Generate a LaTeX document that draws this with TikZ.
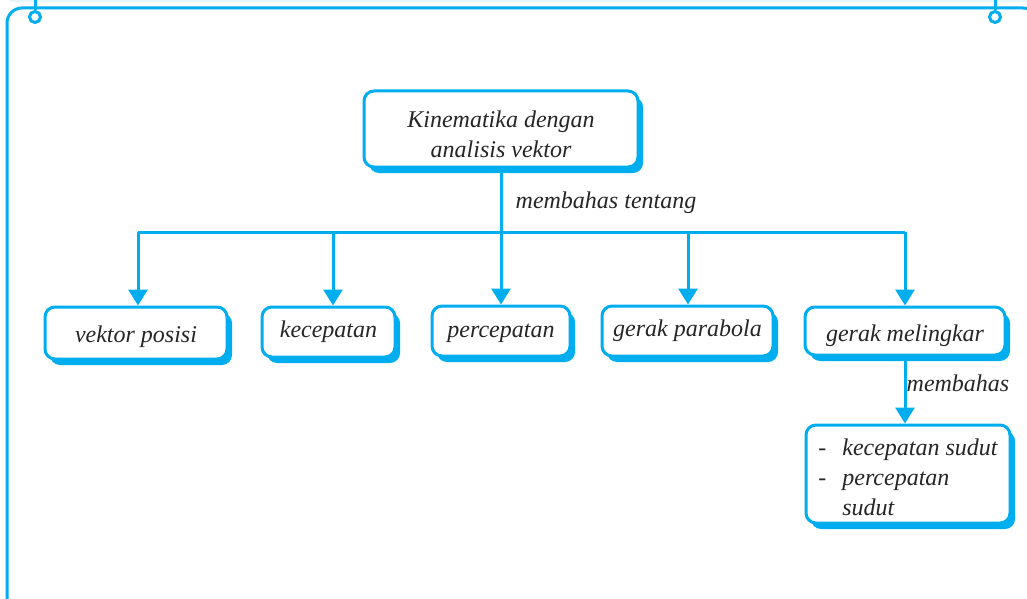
\documentclass[tikz,border=0pt]{standalone}
\usepackage{fontspec}
\setmainfont{Liberation Serif}
\usetikzlibrary{arrows.meta,shadows}
\definecolor{cmblue}{HTML}{00AEEF}
\definecolor{cmtext}{HTML}{262626}
\definecolor{cmband}{HTML}{E6F6FD}
\newcommand\cmdown[2]{\raisebox{-#1}[\height][\depth]{#2}}
\tikzset{
  cmframe/.style={draw=cmblue, line width=3pt, rounded corners=15pt},
  cmbox/.style={draw=cmblue, line width=3pt, fill=white, rounded corners=10pt,
    drop shadow={shadow xshift=5pt, shadow yshift=-6pt, fill=cmblue, opacity=1},
    inner sep=0pt, text=cmtext, font=\fontsize{24}{30}\selectfont\itshape, align=center},
  cmlabel/.style={text=cmtext, font=\fontsize{24}{30}\selectfont\itshape, inner sep=0pt},
  cmline/.style={draw=cmblue, line width=3pt},
  cmarrow/.style={draw=cmblue, line width=3pt, -{Triangle[width=19pt,length=16pt]}},
  cmring/.style={draw=cmblue, line width=3pt}
}
\begin{document}
\begin{tikzpicture}[x=1pt,y=-1pt]
\useasboundingbox (0,0) rectangle (1027,599);
\fill[cmband] (10,0) rectangle (1027,2.5);
\begin{scope}
\clip (0,0) rectangle (1027,599);
\draw[cmframe] (7,8) rectangle (1038,612);
\end{scope}
% rings
\coordinate (rlt) at (35,0);
\coordinate (rrt) at (995,0);
\node[cmring, circle, minimum size=11pt, inner sep=0pt] (rl) at (35,17) {};
\node[cmring, circle, minimum size=11pt, inner sep=0pt] (rr) at (995,17) {};
\draw[cmring] (rlt) -- (rl.north);
\draw[cmring] (rrt) -- (rr.north);

% main box
\node[cmbox, minimum width=274pt, minimum height=76pt] (main) at (501,129)
  {\cmdown{7pt}{\begin{tabular}{@{}c@{}}Kinematika dengan\\analisis vektor\end{tabular}}};

% level boxes
\node[cmbox, minimum width=182pt, minimum height=52pt] (vp) at (136,333) {\cmdown{4pt}{vektor posisi}};
\node[cmbox, minimum width=133pt, minimum height=50pt] (kc) at (328.5,332) {kecepatan};
\node[cmbox, minimum width=138pt, minimum height=50pt] (pc) at (501,331) {\cmdown{2pt}{percepatan}};
\node[cmbox, minimum width=171pt, minimum height=50pt] (gp) at (687.5,331) {gerak parabola};
\node[cmbox, minimum width=200pt, minimum height=48pt] (gm) at (905,331) {\cmdown{5pt}{gerak melingkar}};

\node[cmbox, minimum width=204pt, minimum height=98pt, align=left] (sub) at (908,474)
  {\cmdown{5pt}{\begin{tabular}{@{}l@{\hspace{16pt}}l@{}}-&kecepatan sudut\\-&percepatan\\&sudut\end{tabular}}};

% connectors
\coordinate (hl) at (138,232);
\coordinate (hk) at (333,232);
\coordinate (hg) at (688,232);
\coordinate (hr) at (905,232);
\draw[cmline] (hl) -- (hr);
\draw[cmarrow] (main.south) -- (pc.north);
\draw[cmarrow] (hl) -- (hl |- vp.north);
\draw[cmarrow] (hk) -- (hk |- kc.north);
\draw[cmarrow] (hg) -- (hg |- gp.north);
\draw[cmarrow] (hr) -- (gm.north);
\draw[cmarrow] (gm.south) -- (gm.south |- sub.north);

\node[cmlabel] (lt) at (606,203) {membahas tentang};
\node[cmlabel] (lm) at (958,383) {membahas};
\end{tikzpicture}
\end{document}
